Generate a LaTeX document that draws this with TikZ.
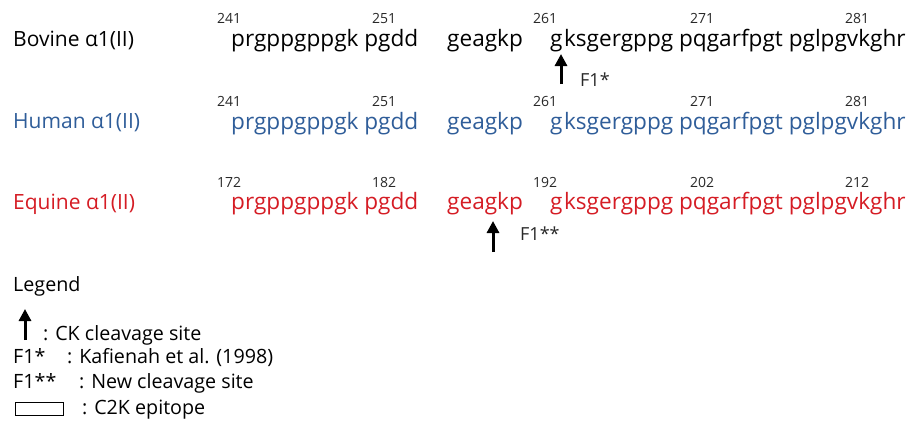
\documentclass[tikz,border=0pt]{standalone}
\usepackage{fontspec}
\setmainfont{Open Sans}
\usetikzlibrary{arrows.meta}
\definecolor{hblue}{RGB}{47,93,153}
\definecolor{ered}{RGB}{213,28,36}
\definecolor{numgray}{RGB}{40,40,40}
\begin{document}
\begin{tikzpicture}[x=1pt,y=-1pt,
  lab/.style={anchor=base west,inner sep=0pt,font=\fontsize{21}{24}\selectfont},
  seq/.style={anchor=base west,inner sep=0pt,font=\fontsize{22.6}{26}\selectfont},
  num/.style={anchor=base west,inner sep=0pt,font=\fontsize{14}{16}\selectfont,text=numgray},
  flab/.style={anchor=base west,inner sep=0pt,font=\fontsize{18}{20}\selectfont,text=numgray},
  cut/.style={line width=3pt,-{Triangle[width=12pt,length=12pt]}},
  leg/.style={anchor=base west,inner sep=0pt,font=\fontsize{19.7}{22}\selectfont}]
\useasboundingbox (0,0) rectangle (914,423);
% Bovine
\node[lab] (bl) at (13,46.5) {Bovine α1(II)};
\node[num] (b241) at (217,23.5) {241};
\node[num] (b251) at (372,23.5) {251};
\node[num] (b261) at (533,23.5) {261};
\node[num] (b271) at (690,23.5) {271};
\node[num] (b281) at (845,23.5) {281};
\node[seq] (bs1) at (231,46.5) {prgppgppgk pgdd};
\node[seq] (bs2) at (447,46.5) {geagkp};
\node[seq] (bs3) at (550,46.5) {g\kern1.5pt ksgergppg pqgarfpgt pglpgvkghr};
\coordinate (ba0) at (561,84);
\coordinate (ba1) at (561,54);
\draw[cut] (ba0) -- (ba1);
\node[flab] (bf) at (580,86) {F1*};
% Human
\node[lab,text=hblue] (hl) at (13,128.5) {Human α1(II)};
\node[num] (h241) at (217,106.5) {241};
\node[num] (h251) at (372,106.5) {251};
\node[num] (h261) at (533,106.5) {261};
\node[num] (h271) at (690,106.5) {271};
\node[num] (h281) at (845,106.5) {281};
\node[seq,text=hblue] (hs1) at (231,129.5) {prgppgppgk pgdd};
\node[seq,text=hblue] (hs2) at (447,129.5) {geagkp};
\node[seq,text=hblue] (hs3) at (550,129.5) {g\kern1.5pt ksgergppg pqgarfpgt pglpgvkghr};
% Equine
\node[lab,text=ered] (el) at (13,209.5) {Equine α1(II)};
\node[num] (e172) at (217,187.5) {172};
\node[num] (e182) at (372,187.5) {182};
\node[num] (e192) at (533,187.5) {192};
\node[num] (e202) at (690,187.5) {202};
\node[num] (e212) at (845,187.5) {212};
\node[seq,text=ered] (es1) at (231,209.5) {prgppgppgk pgdd};
\node[seq,text=ered] (es2) at (447,209.5) {geagkp};
\node[seq,text=ered] (es3) at (550,209.5) {g\kern1.5pt ksgergppg pqgarfpgt pglpgvkghr};
\coordinate (ea0) at (493,252);
\coordinate (ea1) at (493,221);
\draw[cut] (ea0) -- (ea1);
\node[flab] (ef) at (520,240) {F1**};
% Legend
\node[leg] (lg) at (13,291.5) {Legend};
\coordinate (la0) at (25,340);
\coordinate (la1) at (25,309);
\draw[cut] (la0) -- (la1);
\node[leg] (l1) at (43,340) {: CK cleavage site};
\node[leg] (l2a) at (13,363) {F1*};
\node[leg] (l2b) at (67,363) {: Kafienah et al. (1998)};
\node[leg] (l3a) at (13,388) {F1**};
\node[leg] (l3b) at (79,388) {: New cleavage site};
\node[draw,line width=0.8pt,minimum width=48pt,minimum height=13pt,inner sep=0pt,anchor=north west] (box) at (15,402) {};
\node[leg] (l4) at (82,414) {: C2K epitope};
\end{tikzpicture}
\end{document}
